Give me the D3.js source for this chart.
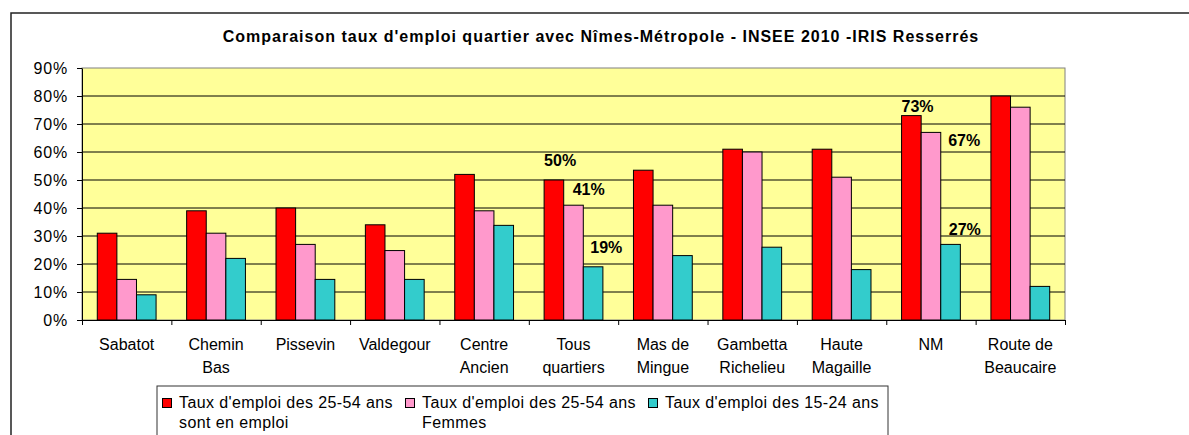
<!DOCTYPE html>
<html>
<head>
<meta charset="utf-8">
<script src="https://cdn.jsdelivr.net/npm/d3@7"></script>
<style>
    body { margin: 0; background: #fff; }
    svg { display: block; font-family: "Liberation Sans", Arial, sans-serif; }
</style>
</head>
<body>
<svg id="chart" width="1189" height="435"></svg>
<script>
// Tick labels (line breaks as in the original Excel chart)
const categories = [
    "Sabatot",
    "Chemin\nBas",
    "Pissevin",
    "Valdegour",
    "Centre\nAncien",
    "Tous\nquartiers",
    "Mas de\nMingue",
    "Gambetta\nRichelieu",
    "Haute\nMagaille",
    "NM",
    "Route de\nBeaucaire"
];

// Values in %
const emploi2554 = [31, 39, 40, 34, 52, 50, 53.5, 61, 61, 73, 80];
const femmes2554 = [14.5, 31, 27, 24.8, 39, 41, 41, 60, 51, 67, 76];
const jeunes1524 = [9, 22, 14.5, 14.5, 33.8, 19, 23, 26, 18, 27, 12];

const seriesNames = [
    "Taux d'emploi des 25-54 ans\nsont en emploi",
    "Taux d'emploi des 25-54 ans\nFemmes",
    "Taux d'emploi des 15-24 ans"
];
const colors = ['#ff0000', '#ff99cc', '#33cccc'];

const yTicks = [0, 10, 20, 30, 40, 50, 60, 70, 80, 90];

// Labelled bars: category index, series index
const labelled = [[5, 0], [5, 1], [5, 2], [9, 0], [9, 1], [9, 2]];

const title = "Comparaison taux d'emploi quartier avec Nîmes-Métropole - INSEE 2010 -IRIS Resserrés";

const series = [emploi2554, femmes2554, jeunes1524];

/* ===== Layout ===== */
const plot = { left: 82, right: 1065, top: 68, bottom: 320 };
const svg = d3.select('#chart');

const x0 = d3.scaleBand()
    .domain(d3.range(categories.length))
    .range([plot.left, plot.right])
    .padding(0);
const x1 = d3.scaleBand()
    .domain(d3.range(series.length))
    .range([0, x0.bandwidth()])
    .paddingInner(0)
    .paddingOuter(0.78);
const y = d3.scaleLinear()
    .domain([0, 90])
    .range([plot.bottom, plot.top]);

// outer chart frame (runs off the picture on the right and bottom)
svg.append('rect')
    .attr('x', 11).attr('y', 13)
    .attr('width', 1300).attr('height', 600)
    .attr('fill', 'none')
    .attr('stroke', '#222')
    .attr('stroke-width', 1.5);

svg.append('text')
    .attr('x', 601).attr('y', 42)
    .attr('text-anchor', 'middle')
    .attr('font-size', 16)
    .attr('font-weight', 'bold')
    .attr('letter-spacing', 1)
    .text(title);

// plot area
svg.append('rect')
    .attr('x', plot.left).attr('y', plot.top)
    .attr('width', plot.right - plot.left)
    .attr('height', plot.bottom - plot.top)
    .attr('fill', '#ffff99')
    .attr('stroke', '#808080');

svg.append('g').selectAll('line')
    .data(yTicks.filter(d => d > 0 && d < 90))
    .enter().append('line')
    .attr('x1', plot.left).attr('x2', plot.right)
    .attr('y1', d => y(d)).attr('y2', d => y(d))
    .attr('stroke', '#000');

// y axis
const yAxis = svg.append('g')
    .attr('transform', `translate(${plot.left},0)`)
    .call(d3.axisLeft(y).tickValues(yTicks).tickFormat(d => d + '%').tickSize(5).tickSizeOuter(0).tickPadding(9));
yAxis.selectAll('text')
    .attr('font-size', 16)
    .attr('font-family', '"Liberation Sans", Arial, sans-serif')
    .attr('letter-spacing', 0.8)
    .attr('fill', '#000');
yAxis.selectAll('line, path').attr('stroke', '#000');

// bars
const groups = svg.append('g').selectAll('g')
    .data(categories)
    .enter().append('g')
    .attr('transform', (d, i) => `translate(${x0(i)},0)`);

groups.selectAll('rect')
    .data((d, i) => series.map((s, j) => ({ j: j, v: s[i] })))
    .enter().append('rect')
    .attr('x', d => x1(d.j))
    .attr('y', d => y(d.v))
    .attr('width', x1.bandwidth())
    .attr('height', d => y(0) - y(d.v))
    .attr('fill', d => colors[d.j])
    .attr('stroke', '#000')
    .attr('stroke-width', 1);

// x axis: ticks between categories
const xBound = d3.scaleLinear().domain([0, categories.length]).range([plot.left, plot.right]);
const xAxis = svg.append('g')
    .attr('transform', `translate(0,${plot.bottom})`)
    .call(d3.axisBottom(xBound).ticks(categories.length).tickFormat('').tickSize(5).tickSizeOuter(5));
xAxis.selectAll('line, path').attr('stroke', '#000');

svg.append('g').selectAll('text')
    .data(categories)
    .enter().append('text')
    .attr('text-anchor', 'middle')
    .attr('font-size', 16)
    .attr('transform', (d, i) => `translate(${x0(i) + x0.bandwidth() / 2},${plot.bottom + 30})`)
    .each(function(d) {
        d3.select(this).selectAll('tspan')
            .data(d.split('\n'))
            .enter().append('tspan')
            .attr('x', 0)
            .attr('y', (dd, k) => k * 23)
            .text(dd => dd);
    });

// value labels (placed by hand in the original, hence the nudges)
const nudges = [[0, -14], [9, -10], [7, -14], [0, -4], [27, 14], [8, -9]];
svg.append('g').selectAll('text')
    .data(labelled)
    .enter().append('text')
    .attr('x', (d, k) => x0(d[0]) + x1(d[1]) + nudges[k][0])
    .attr('y', (d, k) => y(series[d[1]][d[0]]) + nudges[k][1])
    .attr('font-size', 16)
    .attr('font-weight', 'bold')
    .text(d => Math.round(series[d[1]][d[0]]) + '%');

// legend (box runs off the bottom of the picture)
const legend = svg.append('g').attr('transform', 'translate(157,386)');
legend.append('rect')
    .attr('width', 731).attr('height', 100)
    .attr('fill', '#fff')
    .attr('stroke', '#333');

const items = legend.selectAll('.item')
    .data(seriesNames)
    .enter().append('g')
    .attr('class', 'item')
    .attr('transform', (d, i) => `translate(${5 + i * 243},0)`);
items.append('rect')
    .attr('x', 0.5).attr('y', 12.5)
    .attr('width', 9).attr('height', 9)
    .attr('fill', (d, i) => colors[i])
    .attr('stroke', '#000');
items.append('text')
    .attr('font-size', 16)
    .attr('letter-spacing', 0.4)
    .each(function(d) {
        d3.select(this).selectAll('tspan')
            .data(d.split('\n'))
            .enter().append('tspan')
            .attr('x', 17)
            .attr('y', (dd, k) => 22 + k * 19.5)
            .text(dd => dd);
    });
</script>
</body>
</html>
